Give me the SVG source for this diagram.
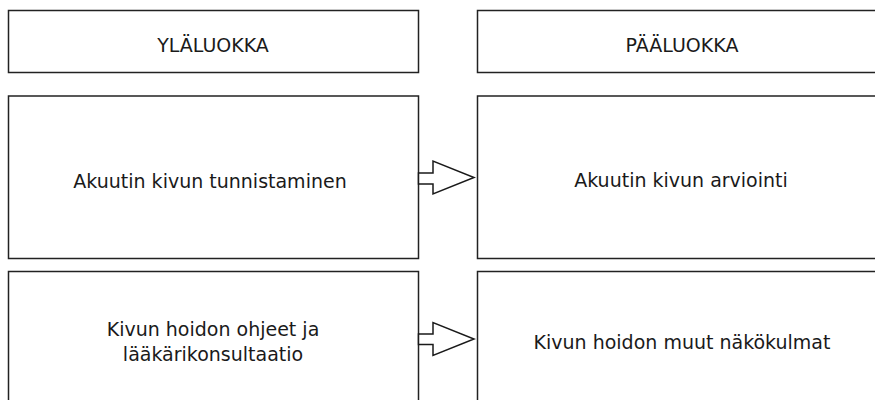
<svg xmlns="http://www.w3.org/2000/svg" width="875" height="400" viewBox="0 0 875 400">
<style>
.box{fill:#fff;stroke:#222;stroke-width:1.5}
.lbl{font-family:"DejaVu Sans",Verdana,sans-serif;font-size:19px;fill:#1a1a1a;text-anchor:middle}
.arr{fill:#fff;stroke:#1a1a1a;stroke-width:1.5;stroke-linejoin:miter}
</style>
<rect width="875" height="400" fill="#fff"/>
<g id="yla-header"><rect class="box" x="8.5" y="10.5" width="410" height="62"/><text class="lbl" x="213" y="51.5">YLÄLUOKKA</text></g>
<g id="paa-header"><rect class="box" x="477.5" y="10.5" width="410" height="62"/><text class="lbl" x="682" y="51.5">PÄÄLUOKKA</text></g>
<g id="yla-1"><rect class="box" x="8.5" y="96" width="410" height="162.5"/><text class="lbl" x="210" y="187.5">Akuutin kivun tunnistaminen</text></g>
<g id="paa-1"><rect class="box" x="477.5" y="96" width="410" height="162.5"/><text class="lbl" x="681" y="187">Akuutin kivun arviointi</text></g>
<g id="yla-2"><rect class="box" x="8.5" y="271.5" width="410" height="140"/><text class="lbl" x="213" y="336">Kivun hoidon ohjeet ja</text><text class="lbl" x="213" y="361">lääkärikonsultaatio</text></g>
<g id="paa-2"><rect class="box" x="477.5" y="271.5" width="410" height="140"/><text class="lbl" x="682" y="348.5">Kivun hoidon muut näkökulmat</text></g>
<g id="connectors">
<polygon class="arr" points="418.5,173 433,173 433,161 474,177.5 433,194 433,184 418.5,184"/>
<polygon class="arr" points="418.5,334 433,334 433,322.5 474,339 433,355.5 433,344.5 418.5,344.5"/>
</g>
</svg>
